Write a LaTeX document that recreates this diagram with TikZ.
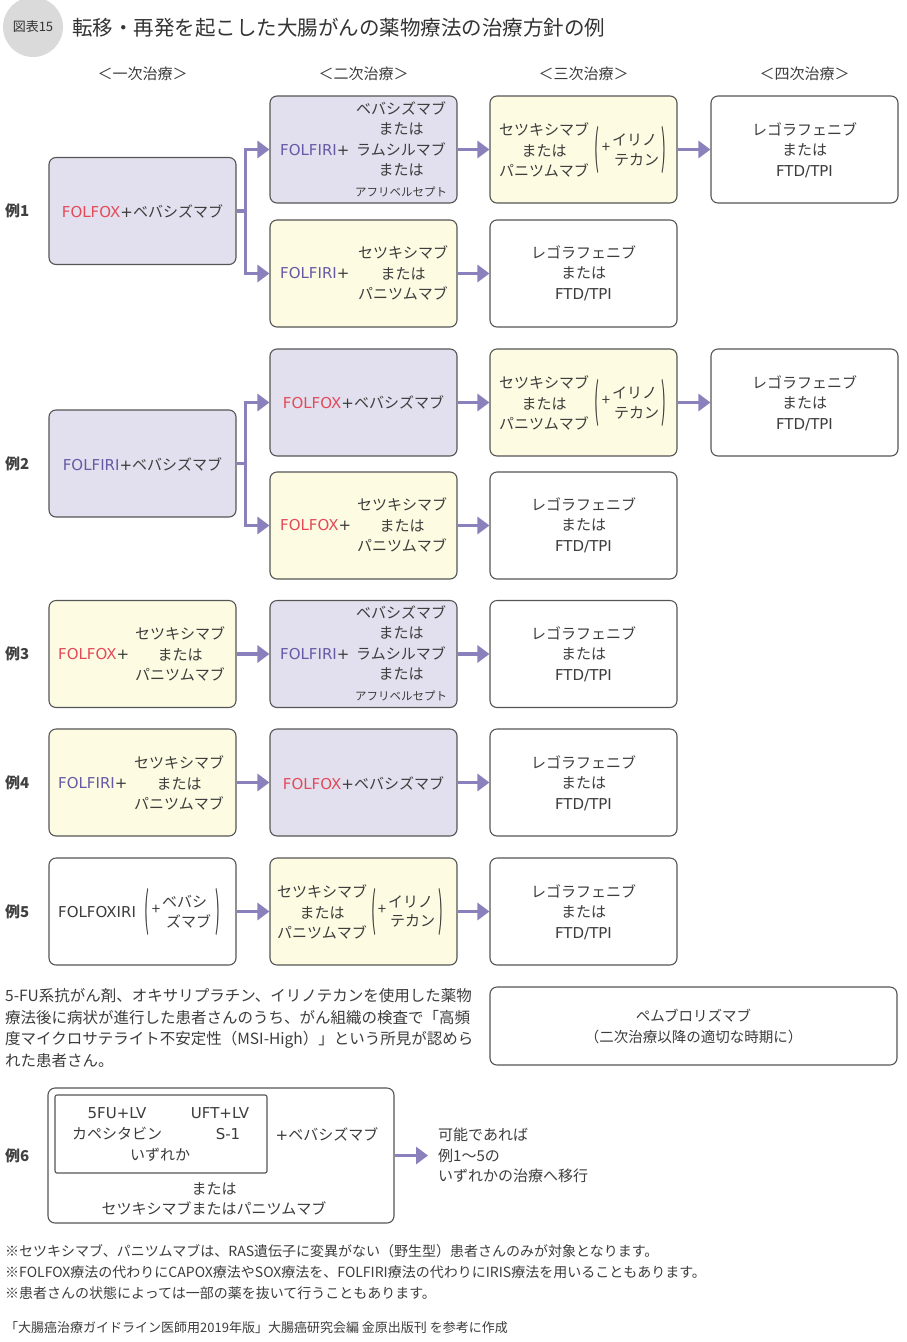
\documentclass[tikz,border=0pt]{standalone}
\usepackage{fontspec}
\usepackage{graphicx}
\setmainfont{Noto Sans CJK JP}
\newfontfamily\latf{DejaVu Sans}
\usetikzlibrary{arrows.meta}
\definecolor{lavfill}{HTML}{E2E0EE}
\definecolor{yelfill}{HTML}{FDFBE1}
\definecolor{bordcol}{HTML}{555555}
\definecolor{arrcol}{HTML}{8A80BB}
\definecolor{txtcol}{HTML}{3C3C3C}
\definecolor{foxred}{HTML}{E24A5A}
\definecolor{firipur}{HTML}{6659A6}
\definecolor{circgray}{HTML}{DADADA}
\newcommand\lat[1]{{\latf #1}}
\newcommand\FOX{\textcolor{foxred}{\lat{FOLFOX}}}
\newcommand\FIRI{\textcolor{firipur}{\lat{FOLFIRI}}}
\newcommand\fs[1]{\fontsize{#1}{20.5}\selectfont}
\newcommand\lp{\scalebox{1.1}[3.6]{(}}
\newcommand\rp{\scalebox{1.1}[3.6]{)}}
\begin{document}
\begin{tikzpicture}[x=1pt,y=-1pt,
  every node/.style={inner sep=0pt, text=txtcol},
  tbox/.style={draw=bordcol, line width=1.1pt, rounded corners=7pt, minimum width=187pt, minimum height=107pt},
  lav/.style={tbox, fill=lavfill},
  yel/.style={tbox, fill=yelfill},
  wht/.style={tbox, fill=white},
  tx/.style={font=\fs{15}, align=center},
  parn/.style={font=\fontsize{13}{13}\selectfont},
  arr/.style={draw=arrcol, line width=3.6pt, -{Triangle[length=12pt,width=17pt]}},
  lbl/.style={font=\fs{15}\bfseries, anchor=west, text=black!75}
]
\useasboundingbox (0,0) rectangle (907,1342);

% title
\node[circle, fill=circgray, minimum size=60pt, font=\fontsize{13}{13}\selectfont, text=black!80] (badge) at (33,27) {図表15};
\node[anchor=west, font=\fontsize{20.5}{24}\selectfont, text=black!80] (title) at (72,28) {転移・再発を起こした大腸がんの薬物療法の治療方針の例};

% headers
\node[tx] (h1) at (142.5,74) {＜一次治療＞};
\node[tx] (h2) at (363.5,74) {＜二次治療＞};
\node[tx] (h3) at (583.5,74) {＜三次治療＞};
\node[tx] (h4) at (804.5,74) {＜四次治療＞};

% ---------- Example 1
\node[lbl] (L1) at (5,211) {例1};
\node[lav] (e1a) at (142.5,211) {};
\node[tx] (e1at) at (142.5,211) {\FOX\lat{+}ベバシズマブ};
\node[lav] (e1b) at (363.5,149.5) {};
\node[tx, anchor=west] (e1bl) at (280,150) {\FIRI\lat{+}};
\node[tx] (e1br) at (401,149) {ベバシズマブ\\または\\ラムシルマブ\\または\\{\fontsize{11.5}{14}\selectfont アフリベルセプト}};
\node[yel] (e1c) at (363.5,273.5) {};
\node[tx, anchor=west] (e1cl) at (280,273) {\FIRI\lat{+}};
\node[tx] (e1cr) at (403,273) {セツキシマブ\\または\\パニツムマブ};
\node[yel] (e1d) at (583.5,149.5) {};
\node[tx] (e1dl) at (544,150) {セツキシマブ\\または\\パニツムマブ};
\node[parn] (e1dp1) at (597,150) {\lp};
\node[tx] (e1dpl) at (606,148) {+};
\node[tx, anchor=west] (e1du) at (612,140) {イリノ};
\node[tx, anchor=west] (e1dd) at (614,160) {テカン};
\node[parn] (e1dp2) at (664,150) {\rp};
\node[wht] (e1e) at (804.5,149.5) {};
\node[tx] (e1et) at (804.5,150) {レゴラフェニブ\\または\\\lat{FTD/TPI}};
\node[wht] (e1f) at (583.5,273.5) {};
\node[tx] (e1ft) at (583.5,273) {レゴラフェニブ\\または\\\lat{FTD/TPI}};
\draw[arr] (e1a.east) -- ([xshift=9pt]e1a.east) |- (e1b.west);
\draw[arr] (e1a.east) -- ([xshift=9pt]e1a.east) |- (e1c.west);
\draw[arr] (e1b) -- (e1d);
\draw[arr] (e1c) -- (e1f);
\draw[arr] (e1d) -- (e1e);

% ---------- Example 2
\node[lbl] (L2) at (5,464) {例2};
\node[lav] (e2a) at (142.5,463.5) {};
\node[tx] (e2at) at (142.5,464) {\FIRI\lat{+}ベバシズマブ};
\node[lav] (e2b) at (363.5,402.5) {};
\node[tx] (e2bt) at (363.5,402) {\FOX\lat{+}ベバシズマブ};
\node[yel] (e2c) at (363.5,525.5) {};
\node[tx, anchor=west] (e2cl) at (280,525) {\FOX\lat{+}};
\node[tx] (e2cr) at (402,525) {セツキシマブ\\または\\パニツムマブ};
\node[yel] (e2d) at (583.5,402.5) {};
\node[tx] (e2dl) at (544,403) {セツキシマブ\\または\\パニツムマブ};
\node[parn] (e2dp1) at (597,403) {\lp};
\node[tx] (e2dpl) at (606,401) {+};
\node[tx, anchor=west] (e2du) at (612,393) {イリノ};
\node[tx, anchor=west] (e2dd) at (614,413) {テカン};
\node[parn] (e2dp2) at (664,403) {\rp};
\node[wht] (e2e) at (804.5,402.5) {};
\node[tx] (e2et) at (804.5,403) {レゴラフェニブ\\または\\\lat{FTD/TPI}};
\node[wht] (e2f) at (583.5,525.5) {};
\node[tx] (e2ft) at (583.5,525) {レゴラフェニブ\\または\\\lat{FTD/TPI}};
\draw[arr] (e2a.east) -- ([xshift=9pt]e2a.east) |- (e2b.west);
\draw[arr] (e2a.east) -- ([xshift=9pt]e2a.east) |- (e2c.west);
\draw[arr] (e2b) -- (e2d);
\draw[arr] (e2c) -- (e2f);
\draw[arr] (e2d) -- (e2e);

% ---------- Example 3
\node[lbl] (L3) at (5,654) {例3};
\node[yel] (e3a) at (142.5,654) {};
\node[tx, anchor=west] (e3al) at (58,654) {\FOX\lat{+}};
\node[tx] (e3ar) at (180,654) {セツキシマブ\\または\\パニツムマブ};
\node[lav] (e3b) at (363.5,654) {};
\node[tx, anchor=west] (e3bl) at (280,654) {\FIRI\lat{+}};
\node[tx] (e3br) at (401,653) {ベバシズマブ\\または\\ラムシルマブ\\または\\{\fontsize{11.5}{14}\selectfont アフリベルセプト}};
\node[wht] (e3c) at (583.5,654) {};
\node[tx] (e3ct) at (583.5,654) {レゴラフェニブ\\または\\\lat{FTD/TPI}};
\draw[arr] (e3a) -- (e3b);
\draw[arr] (e3b) -- (e3c);

% ---------- Example 4
\node[lbl] (L4) at (5,783) {例4};
\node[yel] (e4a) at (142.5,782.5) {};
\node[tx, anchor=west] (e4al) at (58,783) {\FIRI\lat{+}};
\node[tx] (e4ar) at (179,783) {セツキシマブ\\または\\パニツムマブ};
\node[lav] (e4b) at (363.5,782.5) {};
\node[tx] (e4bt) at (363.5,783) {\FOX\lat{+}ベバシズマブ};
\node[wht] (e4c) at (583.5,782.5) {};
\node[tx] (e4ct) at (583.5,783) {レゴラフェニブ\\または\\\lat{FTD/TPI}};
\draw[arr] (e4a) -- (e4b);
\draw[arr] (e4b) -- (e4c);

% ---------- Example 5
\node[lbl] (L5) at (5,912) {例5};
\node[wht] (e5a) at (142.5,911.5) {};
\node[tx, anchor=west] (e5al) at (58,912) {\lat{FOLFOXIRI}};
\node[parn] (e5ap1) at (147,912) {\lp};
\node[tx] (e5apl) at (156,910) {+};
\node[tx, anchor=west] (e5au) at (162,902) {ベバシ};
\node[tx, anchor=west] (e5ad) at (166,921) {ズマブ};
\node[parn] (e5ap2) at (218,912) {\rp};
\node[yel] (e5b) at (363.5,911.5) {};
\node[tx] (e5bl) at (322,912) {セツキシマブ\\または\\パニツムマブ};
\node[parn] (e5bp1) at (374,912) {\lp};
\node[tx] (e5bpl) at (382,910) {+};
\node[tx, anchor=west] (e5bu) at (388,902) {イリノ};
\node[tx, anchor=west] (e5bd) at (390,921) {テカン};
\node[parn] (e5bp2) at (441,912) {\rp};
\node[wht] (e5c) at (583.5,911.5) {};
\node[tx] (e5ct) at (583.5,912) {レゴラフェニブ\\または\\\lat{FTD/TPI}};
\draw[arr] (e5a) -- (e5b);
\draw[arr] (e5b) -- (e5c);

% ---------- MSI-High
\node[anchor=west, align=left, font=\fontsize{15.5}{21.7}\selectfont] (msi) at (5,1028) {5-FU系抗がん剤、オキサリプラチン、イリノテカンを使用した薬物\\療法後に病状が進行した患者さんのうち、がん組織の検査で「高頻\\度マイクロサテライト不安定性（MSI-High）」という所見が認めら\\れた患者さん。};
\node[wht, minimum width=407pt, minimum height=78pt] (msibox) at (693.5,1026) {};
\node[tx, font=\fontsize{14.5}{21}\selectfont] (msit) at (693.5,1026.5) {ペムブロリズマブ\\（二次治療以降の適切な時期に）};

% ---------- Example 6
\node[lbl] (L6) at (5,1155.5) {例6};
\node[wht, minimum width=346pt, minimum height=135pt] (e6out) at (221,1155.5) {};
\node[draw=bordcol, line width=1.1pt, rounded corners=2pt, minimum width=212pt, minimum height=78pt] (e6in) at (161,1134) {};
\node[tx] (e6a) at (117,1113) {\lat{5FU+LV}};
\node[tx] (e6b) at (220,1113) {\lat{UFT+LV}};
\node[tx] (e6c) at (117,1134) {カペシタビン};
\node[tx] (e6d) at (228,1134) {\lat{S-1}};
\node[tx] (e6e) at (160,1155) {いずれか};
\node[tx] (e6f) at (327,1134) {\lat{+}ベバシズマブ};
\node[tx] (e6g) at (214,1199) {または\\セツキシマブまたはパニツムマブ};
\node[tx, anchor=west, align=left] (e6next) at (438,1155.5) {可能であれば\\例1～5の\\いずれかの治療へ移行};
\draw[arr] (e6out.east) -- ([xshift=-10pt]e6next.west);

% ---------- notes
\node[anchor=west, font=\fontsize{14}{16}\selectfont] (n1) at (5,1251) {※セツキシマブ、パニツムマブは、RAS遺伝子に変異がない（野生型）患者さんのみが対象となります。};
\node[anchor=west, font=\fontsize{14}{16}\selectfont] (n2) at (5,1272) {※FOLFOX療法の代わりにCAPOX療法やSOX療法を、FOLFIRI療法の代わりにIRIS療法を用いることもあります。};
\node[anchor=west, font=\fontsize{14}{16}\selectfont] (n3) at (5,1293) {※患者さんの状態によっては一部の薬を抜いて行うこともあります。};
\node[anchor=west, font=\fontsize{13}{15}\selectfont] (cite) at (5,1328) {「大腸癌治療ガイドライン医師用2019年版」大腸癌研究会編 金原出版刊 を参考に作成};
\end{tikzpicture}
\end{document}
